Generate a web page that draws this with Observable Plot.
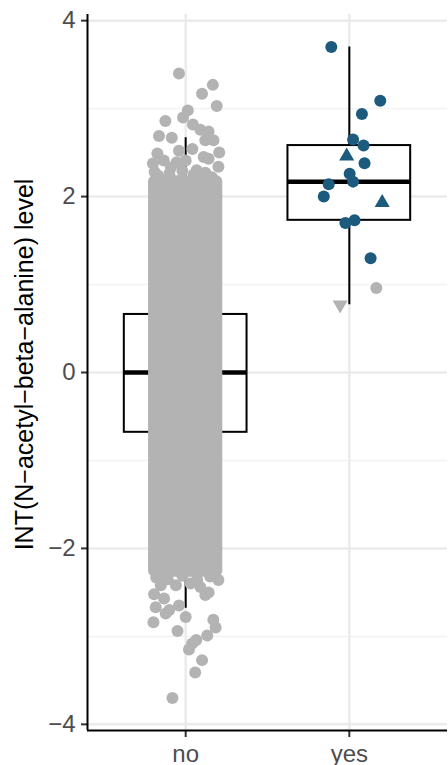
<!DOCTYPE html>
<html><head><meta charset="utf-8">
<script src="https://cdn.jsdelivr.net/npm/d3@7"></script>
<script src="https://cdn.jsdelivr.net/npm/@observablehq/plot@0.6"></script>
<style>html,body{margin:0;padding:0;background:#fff}svg{display:block}</style>
</head><body><div id="chart"></div>
<script>
// ---- categories & tick labels ----
const groups = ["no", "yes"];
const yTicks = [-4, -2, 0, 2, 4];
const yMinorTicks = [-3, -1, 1, 3];
const yLabel = "INT(N\u2212acetyl\u2212beta\u2212alanine) level";

// ---- box statistics ----
const q1 = [-0.68, 1.73];
const medians = [0.0, 2.17];
const q3 = [0.66, 2.58];
const whiskerLow = [-2.68, 0.77];
const whiskerHigh = [2.67, 3.70];

// ---- "no" group: solid overlapping cloud (range of point centres) ----
const noCoreLow = -2.26;
const noCoreHigh = 2.17;
const noCoreJitter = 0.19;
// sparse "no" points visible outside / at the edge of the solid cloud
const noTailValue = [3.40, 3.27, 3.17, 3.03, 2.98, 2.86, 2.90, 2.82, 2.76, 2.74, 2.69, 2.67, 2.64, 2.64,
  2.50, 2.49, 2.52, 2.54, 2.45, 2.375, 2.41, 2.41, 2.43, 2.34, 2.39, 2.30, 2.28, 2.27, 2.33,
  2.24, 2.26, 2.29, 2.25, 2.22,
  -2.52, -2.57, -2.67, -2.70, -2.74, -2.65, -2.78, -2.84, -2.94, -2.81, -2.90, -2.99, -3.04, -3.08,
  -3.15, -3.27, -3.41, -3.70, -2.44, -2.53, -2.42, -2.36, -2.50, -2.40, -2.42,
  -2.33, -2.35, -2.31, -2.36, -2.32];
const noTailJitter = [-0.041, 0.166, 0.10, 0.19, 0.013, -0.124, -0.016, 0.044, 0.09, 0.14, -0.163, -0.085, 0.17, 0.12,
  0.205, -0.173, -0.041, 0.041, 0.11, -0.20, -0.134, 0.0, 0.14, 0.20, -0.055, 0.067, -0.19, 0.12, -0.09,
  -0.17, -0.10, -0.02, 0.05, 0.16,
  -0.193, -0.132, -0.183, -0.10, -0.122, -0.041, 0.0, -0.197, -0.05, 0.169, 0.183, 0.132, 0.065, 0.04,
  0.02, 0.10, 0.058, -0.081, 0.09, 0.12, -0.06, 0.20, 0.14, 0.03, -0.152,
  -0.18, -0.11, -0.02, 0.07, 0.15];

// ---- "yes" group points ----
const yesValue  = [3.70, 3.09, 2.94, 2.65, 2.58, 2.46, 2.38, 2.26, 2.17, 2.14, 2.00, 1.93, 1.73, 1.70, 1.30, 0.96, 0.77];
const yesJitter = [-0.110, 0.189, 0.077, 0.023, 0.087, -0.016, 0.093, 0.002, 0.023, -0.126, -0.156, 0.201, 0.032, -0.024, 0.130, 0.165, -0.056];
const yesShape  = ["circle","circle","circle","circle","circle","triangle","circle","circle","circle","circle","circle","triangle","circle","circle","circle","circle","triangle-down"];
const yesGroup  = ["a","a","a","a","a","a","a","a","a","a","a","a","a","a","a","b","b"];

// ---- styles ----
const grey = "#B3B3B3";
const blue = "#1c5a7e";
const colorOf = {a: blue, b: grey};
const boxHalf = 0.375;

// ---- tables built from the arrays ----
const boxes = groups.map((g, i) => ({pos: i + 1, q1: q1[i], med: medians[i], q3: q3[i], lo: whiskerLow[i], hi: whiskerHigh[i]}));
const noTail = noTailValue.map((v, i) => ({x: 1 + noTailJitter[i], y: v}));
const yes = yesValue.map((v, i) => ({x: 2 + yesJitter[i], y: v, shape: yesShape[i], fill: colorOf[yesGroup[i]]}));
const yesCircles = yes.filter(d => d.shape === "circle");
const yesTris = yes.filter(d => d.shape !== "circle");

const font = "'Liberation Sans', Arial, Helvetica, sans-serif";

const chart = Plot.plot({
  width: 448, height: 765,
  marginLeft: 87, marginRight: 1, marginTop: 14, marginBottom: 35,
  x: {type: "linear", domain: [0.4, 2.6], axis: null},
  y: {domain: [-4.07, 4.07], axis: null},
  style: {fontFamily: font, background: "white", overflow: "visible"},
  marks: [
    Plot.ruleY(yMinorTicks, {stroke: "#F3F3F3", strokeWidth: 1.5}),
    Plot.ruleY(yTicks, {stroke: "#EBEBEB", strokeWidth: 2.5}),
    Plot.ruleX([1, 2], {stroke: "#EBEBEB", strokeWidth: 2.5}),
    // whiskers
    Plot.ruleX(boxes, {x: "pos", y1: "lo", y2: "hi", stroke: "black", strokeWidth: 2}),
    // boxes
    Plot.rect(boxes, {x1: d => d.pos - boxHalf, x2: d => d.pos + boxHalf, y1: "q1", y2: "q3", fill: "white", stroke: "black", strokeWidth: 2}),
    Plot.ruleY(boxes, {y: "med", x1: d => d.pos - boxHalf, x2: d => d.pos + boxHalf, stroke: "black", strokeWidth: 4.5}),
    // "no" dense cloud
    Plot.rect([{lo: noCoreLow, hi: noCoreHigh}], {x1: 1 - noCoreJitter, x2: 1 + noCoreJitter, y1: "lo", y2: "hi",
      fill: grey, insetLeft: -6, insetRight: -6, insetTop: -6, insetBottom: -6, rx: 6}),
    Plot.dot(noTail, {x: "x", y: "y", r: 6, fill: grey}),
    // "yes" points
    Plot.dot(yesCircles, {x: "x", y: "y", r: 6, fill: "fill"}),
    Plot.dot(yesTris, {x: "x", y: "y", r: 5.6, symbol: "triangle", rotate: d => d.shape === "triangle-down" ? 180 : 0, fill: "fill"}),
    // axes
    Plot.axisY({ticks: yTicks, tickSize: 6, tickPadding: 6, fontSize: 24, stroke: "#333", fill: "#4D4D4D", strokeWidth: 2, label: null}),
    Plot.axisX({ticks: [1, 2], tickFormat: d => groups[d - 1], tickSize: 7, tickPadding: 7, fontSize: 24, stroke: "#333", fill: "#4D4D4D", strokeWidth: 2, label: null}),
    Plot.ruleX([0.4], {stroke: "black", strokeWidth: 2}),
    Plot.ruleY([-4.07], {stroke: "black", strokeWidth: 2}),
    Plot.text([yLabel], {frameAnchor: "left", textAnchor: "middle", lineAnchor: "middle", rotate: -90, dx: -63, dy: -8, fontSize: 25, fill: "black"})
  ]
});
document.getElementById("chart").appendChild(chart);
</script>
</body></html>
